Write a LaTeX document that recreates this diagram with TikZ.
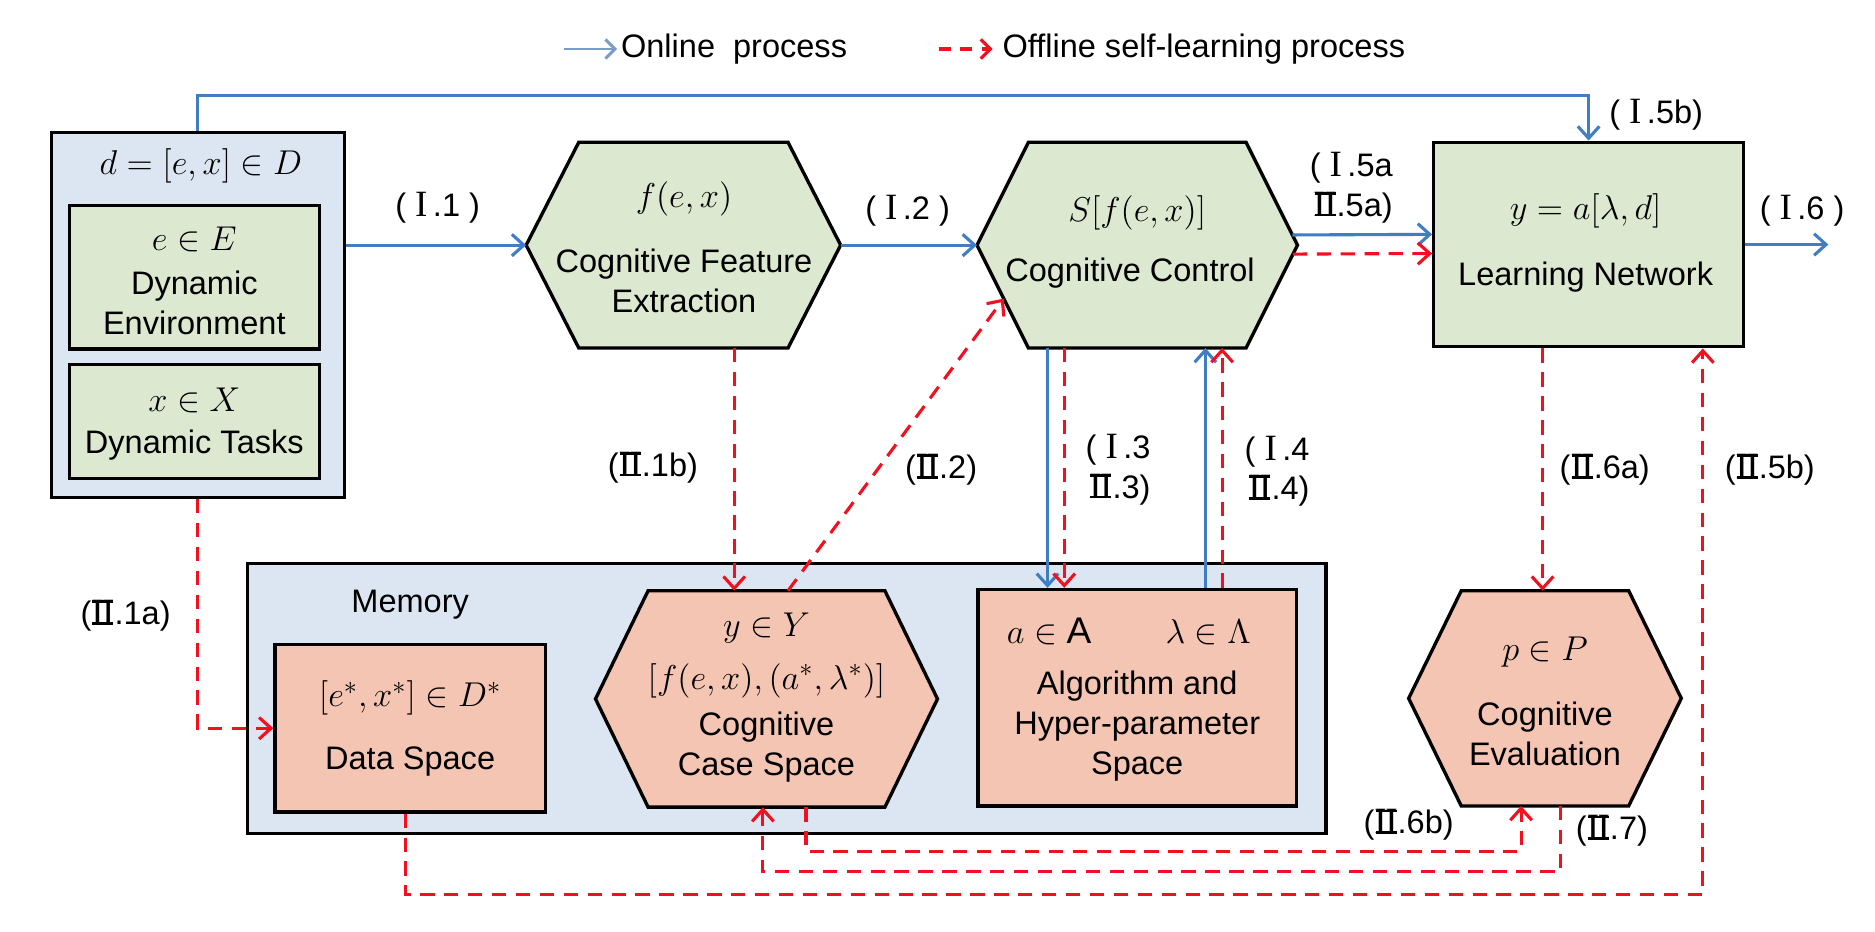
\documentclass[tikz,border=0pt]{standalone}
\usepackage{fontspec}
\setmainfont{Liberation Sans}
\newfontfamily\rmn{Liberation Serif}
\usetikzlibrary{arrows.meta,calc}
\newcommand\rnI{{\rmn\fontsize{15.5}{16}\selectfont I}}
\newcommand\rnII{{\rmn\fontsize{15.5}{16}\selectfont\setbox0\hbox{I\kern-0.04em I}\rlap{\kern0.03em\rule{\dimexpr\wd0-0.06em}{0.07em}}\rlap{\kern0.03em\raisebox{\dimexpr\ht0-0.07em}{\rule{\dimexpr\wd0-0.06em}{0.07em}}}I\kern-0.04em I}}
\definecolor{gfill}{HTML}{DDE8D0}
\definecolor{sfill}{HTML}{F5C5B3}
\definecolor{bfill}{HTML}{DCE6F2}
\definecolor{bline}{HTML}{3F7EC2}
\definecolor{lline}{HTML}{7A9CC8}
\definecolor{rline}{HTML}{F01020}
\pgfdeclarelayer{back}
\pgfdeclarelayer{mid}
\pgfsetlayers{back,mid,main}
\begin{document}
\begin{tikzpicture}[x=0.5pt,y=-0.5pt,
 txt/.style={font=\fontsize{13.6}{16.75}\selectfont,inner sep=0pt,align=center},
 mth/.style={font=\fontsize{15.5}{18}\selectfont,inner sep=0pt},
 lbl/.style={font=\fontsize{13.6}{16.5}\selectfont,inner sep=0pt,align=right},
 boxed/.style={draw=black,line width=1.4pt,inner sep=0pt},
 ph/.style={inner sep=0pt,outer sep=0pt,draw=none},
 hexline/.style={draw=black,line width=1.4pt,line join=miter},
 onl/.style={draw=bline,line width=1.3pt,-{Straight Barb[length=5pt,width=9pt,line width=1.3pt]}},
 ofl/.style={draw=rline,line width=1.3pt,dash pattern=on 6pt off 4pt,-{Straight Barb[length=5pt,width=9pt,line width=1.3pt]}},
]
\useasboundingbox (0,0) rectangle (1568,779);
\begin{pgfonlayer}{back}
\fill[white] (0,0) rectangle (1568,779);
\end{pgfonlayer}

% legend
\coordinate (lg1) at (472,41); \coordinate (lg2) at (516,41);
\coordinate (lg3) at (785,41); \coordinate (lg4) at (830,41);
\draw[draw=lline,line width=1.2pt,-{Straight Barb[length=4pt,width=8pt,line width=1.2pt]}] (lg1) -- (lg2);
\node[txt,anchor=west] (lgt1) at (519,41) {Online~~process};
\draw[draw=rline,line width=1.3pt,dash pattern=on 5pt off 4pt,-{Straight Barb[length=4pt,width=8pt,line width=1.3pt]}] (lg3) -- (lg4);
\node[txt,anchor=west] (lgt2) at (838,41) {Offline self-learning process};

% D box
\node[boxed,fill=bfill,minimum width=122.5pt,minimum height=152.5pt] (D) at (165.5,263.5) {};
\node[boxed,fill=gfill,minimum width=104.5pt,minimum height=60pt] (E) at (162.5,232) {};
\node[boxed,fill=gfill,minimum width=104.5pt,minimum height=47.5pt] (X) at (162.5,352.5) {};
\node[mth] (Dm) at (168,139) {$d=[e,x]\in D$};
\node[mth] (Em) at (162.5,200) {$e\in E$};
\node[txt] (Et) at (162.5,253) {Dynamic\\Environment};
\node[mth] (Xm) at (162.5,335) {$x\in X$};
\node[txt] (Xt) at (162.5,372) {Dynamic Tasks};

% hexagon placeholders
\node[ph,minimum width=131.5pt,minimum height=86pt] (h1) at (571.5,205) {};
\node[ph,minimum width=134pt,minimum height=86pt] (h2) at (951,205) {};
\node[ph,minimum width=143pt,minimum height=90.5pt] (CS) at (641,584.5) {};
\node[ph,minimum width=114pt,minimum height=90pt] (CE) at (1292,584) {};

% memory
\begin{pgfonlayer}{back}
\node[boxed,fill=bfill,minimum width=451pt,minimum height=113pt] (M) at (658,584) {};
\end{pgfonlayer}
\begin{pgfonlayer}{mid}
\draw[hexline,fill=gfill] ([xshift=22pt]h1.north west) -- ([xshift=-22pt]h1.north east) -- (h1.east) -- ([xshift=-22pt]h1.south east) -- ([xshift=22pt]h1.south west) -- (h1.west) -- cycle;
\draw[hexline,fill=gfill] ([xshift=21.5pt]h2.north west) -- ([xshift=-21.5pt]h2.north east) -- (h2.east) -- ([xshift=-21.5pt]h2.south east) -- ([xshift=21.5pt]h2.south west) -- (h2.west) -- cycle;
\draw[hexline,fill=sfill] ([xshift=22pt]CS.north west) -- ([xshift=-22pt]CS.north east) -- (CS.east) -- ([xshift=-22pt]CS.south east) -- ([xshift=22pt]CS.south west) -- (CS.west) -- cycle;
\draw[hexline,fill=sfill] ([xshift=22pt]CE.north west) -- ([xshift=-22pt]CE.north east) -- (CE.east) -- ([xshift=-22pt]CE.south east) -- ([xshift=22pt]CE.south west) -- (CE.west) -- cycle;
\end{pgfonlayer}

\node[mth] (h1m) at (572,166) {$f(e,x)$};
\node[txt] (h1t) at (572,235) {Cognitive Feature\\Extraction};
\node[mth] (h2m) at (951,178) {$S[f(e,x)]$};
\node[txt] (h2t) at (945,228) {Cognitive Control};

% learning network
\node[boxed,fill=gfill,minimum width=129.5pt,minimum height=85.5pt] (LN) at (1328.5,204.5) {};
\node[mth] (LNm) at (1326,176) {$y=a[\lambda,d]$};
\node[txt] (LNt) at (1326,232) {Learning Network};

% memory contents
\node[txt] (mem) at (343,506) {Memory};
\node[boxed,fill=sfill,minimum width=113pt,minimum height=70pt] (Data) at (343,609) {};
\node[mth] (Dsm) at (343,584) {$[e^*,x^*]\in D^*$};
\node[txt] (Dst) at (343,637) {Data Space};
\node[mth] (CSm1) at (641,525) {$y\in Y$};
\node[mth] (CSm2) at (641,569) {$[f(e,x),(a^*,\lambda^*)]$};
\node[txt] (CSt) at (641,625) {Cognitive\\Case Space};
\node[boxed,fill=sfill,minimum width=133pt,minimum height=90.5pt] (Alg) at (951,583.5) {};
\node[mth] (Am) at (944,528) {$a\in\mathrm{A}\qquad\lambda\in\Lambda$};
\node[txt] (At) at (951,607) {Algorithm and\\Hyper-parameter\\Space};
\node[mth] (CEm) at (1292,545) {$p\in P$};
\node[txt] (CEt) at (1292,614) {Cognitive\\Evaluation};

% online connectors
\coordinate (topy) at (0,80);
\draw[onl] (D.north) -- (D.north |- topy) -| (LN.north);
\draw[onl] (D.east |- h1.west) -- (h1.west);
\draw[onl] (h1.east) -- (h2.west);
\draw[onl] ($(h2.east)+(-4.3,-8.5)$) -- ($(LN.west)+(0,-8.5)$);
\coordinate (out) at (1529,204.5);
\draw[onl] (LN.east) -- (out);
\draw[onl] ($(h2.south)+(-75,0)$) -- ($(Alg.north)+(-75,0)$);
\draw[onl] ($(Alg.north)+(57,0)$) -- ($(h2.south)+(57,0)$);

% offline connectors
\draw[ofl] ($(h2.east)+(-3.8,7.5)$) -- ($(LN.west)+(0,7.5)$);
\draw[ofl] ($(h2.south)+(-61,0)$) -- ($(Alg.north)+(-61,0)$);
\draw[ofl] ($(Alg.north)+(71,0)$) -- ($(h2.south)+(71,0)$);
\coordinate (c1) at ($(h1.south)+(42.5,0)$);
\draw[ofl] (c1) -- (c1 |- CS.north);
\coordinate (c2) at ($(CS.north)+(18,0)$);
\coordinate (c2e) at ($(h2.west)!0.52!([xshift=21.5pt]h2.south west)$);
\draw[ofl] (c2) -- (c2e);
\draw[ofl] (D.south) |- (Data.west);
\coordinate (c6a) at ($(LN.south)+(-38.5,0)$);
\draw[ofl] (c6a) -- (c6a |- CE.north);
\coordinate (d5) at ($(Data.south)+(-4,0)$);
\coordinate (l5) at ($(LN.south)+(95.5,0)$);
\coordinate (y3) at (0,748);
\draw[ofl] (d5) -- (d5 |- y3) -| (l5);
\coordinate (c6s) at ($(CS.south)+(33,0)$);
\coordinate (e6) at ($(CE.south)+(-20,0)$);
\coordinate (y1) at (0,712);
\draw[ofl] (c6s) -- (c6s |- y1) -| (e6);
\coordinate (e7) at ($(CE.south)+(13,0)$);
\coordinate (c7) at ($(CS.south)+(-3,0)$);
\coordinate (y2) at (0,729);
\draw[ofl] (e7) -- (e7 |- y2) -| (c7);

% labels
\node[lbl] (l11) at (366,174) {( \rnI\,.1 )};
\node[lbl] (l12) at (759,176) {( \rnI\,.2 )};
\node[lbl] (l15a) at (1130,157) {( \rnI\,.5a\\\rnII.5a)};
\node[lbl] (l15b) at (1385,96) {( \rnI\,.5b)};
\node[lbl] (l16) at (1507,176) {( \rnI\,.6 )};
\node[lbl] (l13) at (935,393) {( \rnI\,.3\\\rnII.3)};
\node[lbl] (l14) at (1068,394) {( \rnI\,.4\\\rnII.4)};
\node[lbl] (l21b) at (546,391) {(\rnII.1b)};
\node[lbl] (l22) at (787,393) {(\rnII.2)};
\node[lbl] (l26a) at (1342,393) {(\rnII.6a)};
\node[lbl] (l25b) at (1480,393) {(\rnII.5b)};
\node[lbl] (l21a) at (105,515) {(\rnII.1a)};
\node[lbl] (l26b) at (1178,690) {(\rnII.6b)};
\node[lbl] (l27) at (1348,695) {(\rnII.7)};
\end{tikzpicture}
\end{document}
